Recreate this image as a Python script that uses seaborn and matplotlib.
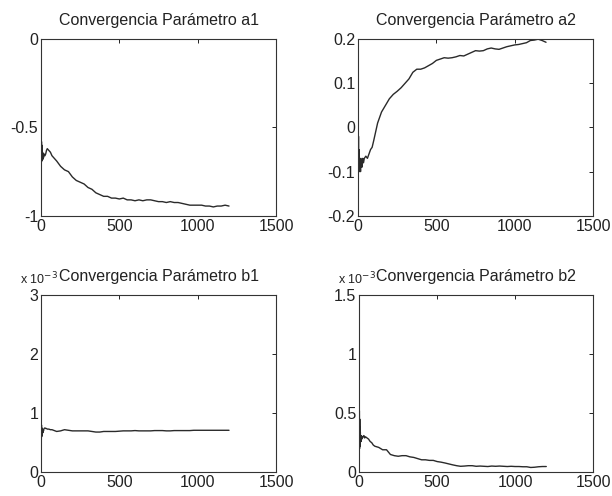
import matplotlib
matplotlib.use("Agg")
import matplotlib.pyplot as plt
import seaborn as sns

# iteraciones (eje x comun)
iteraciones = [1, 2, 3, 4, 5, 6, 7, 8, 10, 12, 14, 16, 18, 20, 25, 30, 35, 40, 50, 60, 70, 80, 90, 100,
               125, 150, 175, 200, 225, 250, 275, 300, 325, 350, 375, 400, 425, 450, 475, 500,
               525, 550, 575, 600, 625, 650, 675, 700, 725, 750, 775, 800, 825, 850, 875, 900,
               925, 950, 975, 1000, 1025, 1050, 1075, 1100, 1125, 1150, 1175, 1200]

a1 = [-0.55, -0.70, -0.58, -0.68, -0.60, -0.69, -0.62, -0.67, -0.64, -0.68, -0.65, -0.67,
      -0.66, -0.65, -0.66, -0.65, -0.63, -0.62, -0.63, -0.64, -0.66, -0.67, -0.68, -0.69,
      -0.72, -0.74, -0.75, -0.78, -0.80, -0.81, -0.82, -0.84, -0.85, -0.87, -0.88, -0.89,
      -0.89, -0.90, -0.90, -0.905, -0.90, -0.91, -0.91, -0.915, -0.91, -0.915, -0.91, -0.91,
      -0.915, -0.92, -0.92, -0.925, -0.92, -0.925, -0.925, -0.93, -0.935, -0.94, -0.94, -0.94,
      -0.94, -0.945, -0.945, -0.95, -0.945, -0.945, -0.94, -0.945]

a2 = [0.0, -0.09, -0.02, -0.10, -0.05, -0.09, -0.06, -0.10, -0.07, -0.09, -0.08, -0.10,
      -0.07, -0.08, -0.09, -0.07, -0.08, -0.07, -0.065, -0.07, -0.06, -0.05, -0.045, -0.03,
      0.01, 0.035, 0.05, 0.065, 0.075, 0.082, 0.09, 0.10, 0.11, 0.125, 0.132, 0.132,
      0.135, 0.14, 0.145, 0.152, 0.155, 0.158, 0.157, 0.158, 0.16, 0.163, 0.162, 0.166,
      0.17, 0.174, 0.173, 0.174, 0.178, 0.18, 0.178, 0.177, 0.18, 0.183, 0.185, 0.187,
      0.188, 0.19, 0.192, 0.197, 0.198, 0.20, 0.197, 0.193]

# b1 y b2 en unidades de 1e-3
b1 = [0.85, 0.55, 0.80, 0.60, 0.75, 0.62, 0.72, 0.65, 0.70, 0.67, 0.72, 0.70,
      0.73, 0.74, 0.75, 0.74, 0.74, 0.73, 0.73, 0.72, 0.72, 0.71, 0.70, 0.69,
      0.70, 0.72, 0.71, 0.70, 0.70, 0.70, 0.70, 0.70, 0.69, 0.68, 0.68, 0.69,
      0.69, 0.69, 0.69, 0.695, 0.70, 0.70, 0.70, 0.705, 0.70, 0.70, 0.70, 0.70,
      0.705, 0.705, 0.705, 0.70, 0.70, 0.705, 0.705, 0.705, 0.705, 0.705, 0.71, 0.71,
      0.71, 0.71, 0.71, 0.71, 0.71, 0.71, 0.71, 0.71]

b2 = [0.52, 0.20, 0.45, 0.22, 0.38, 0.25, 0.34, 0.27, 0.30, 0.26, 0.31, 0.28,
      0.30, 0.29, 0.30, 0.31, 0.29, 0.30, 0.29, 0.28, 0.26, 0.25, 0.23, 0.22,
      0.21, 0.19, 0.19, 0.15, 0.14, 0.135, 0.14, 0.14, 0.13, 0.125, 0.115, 0.105,
      0.105, 0.10, 0.10, 0.09, 0.085, 0.078, 0.07, 0.062, 0.055, 0.05, 0.052, 0.055,
      0.055, 0.05, 0.052, 0.05, 0.048, 0.052, 0.05, 0.052, 0.05, 0.048, 0.05, 0.048,
      0.048, 0.046, 0.046, 0.04, 0.042, 0.046, 0.048, 0.048]

titulos = ["Convergencia Parámetro a1", "Convergencia Parámetro a2",
           "Convergencia Parámetro b1", "Convergencia Parámetro b2"]
series = [a1, a2, b1, b2]
ylims = [(-1, 0), (-0.2, 0.2), (0, 3), (0, 1.5)]
yticks = [[-1, -0.5, 0], [-0.2, -0.1, 0, 0.1, 0.2], [0, 1, 2, 3], [0, 0.5, 1, 1.5]]
xticks = [0, 500, 1000, 1500]

sns.set_style("white")
plt.rcParams["font.family"] = ["Liberation Sans", "DejaVu Sans"]
plt.rcParams["font.size"] = 11

fig = plt.figure(figsize=(6.12, 4.96), dpi=100)
# [left, bottom, width, height] en fracciones de figura
posiciones = [[0.067, 0.565, 0.384, 0.356], [0.585, 0.565, 0.384, 0.356],
              [0.067, 0.048, 0.384, 0.357], [0.587, 0.048, 0.382, 0.357]]

for i in range(4):
    ax = fig.add_axes(posiciones[i])
    sns.lineplot(x=iteraciones, y=series[i], ax=ax, color="#2a2a2a", linewidth=1.0)
    ax.set_xlim(0, 1500)
    ax.set_ylim(*ylims[i])
    ax.set_xticks(xticks)
    ax.set_yticks(yticks[i])
    ax.set_xticklabels([f"{t:g}" for t in xticks])
    ax.set_yticklabels([f"{t:g}" for t in yticks[i]])
    ax.tick_params(direction="in", top=True, right=True, length=3, width=0.7,
                   labelsize=11.5, pad=2, colors="#222222")
    for s in ax.spines.values():
        s.set_color("#333333")
        s.set_linewidth(0.8)
    ax.set_title(titulos[i], fontsize=11.5, pad=10, color="#222222")
    if i >= 2:
        ax.text(-0.09, 1.045, "x 10$^{-3}$", transform=ax.transAxes, fontsize=9,
                ha="left", va="bottom", color="#222222")

fig.savefig("out.png", dpi=100)
